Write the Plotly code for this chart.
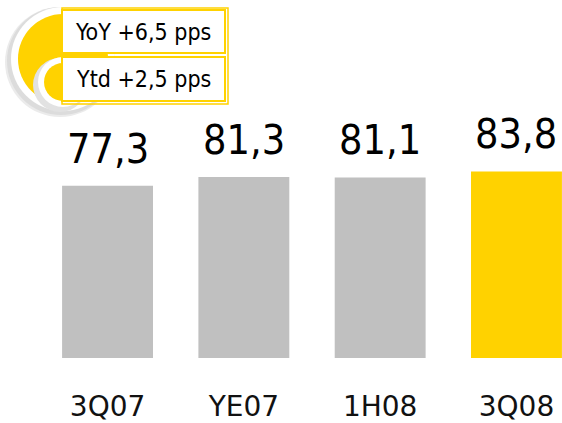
import plotly.graph_objects as go

categories = ["3Q07", "YE07", "1H08", "3Q08"]
values = [77.3, 81.3, 81.1, 83.8]
value_labels = ["77,3", "81,3", "81,1", "83,8"]
bar_colors = ["#C0C0C0", "#C0C0C0", "#C0C0C0", "#FFD200"]
badge_texts = ["YoY +6,5 pps", "Ytd +2,5 pps"]

W, H = 562, 423
ML, MR, MT, MB = 0, 0, 0, 65
PW, PH = W - ML - MR, H - MT - MB
YELLOW = "#FFD200"
FONT_C = "DejaVu Sans Condensed, DejaVu Sans, sans-serif"
FONT_R = "DejaVu Sans, sans-serif"

xs = list(range(len(categories)))

fig = go.Figure(go.Bar(
    x=xs, y=values, marker=dict(color=bar_colors, line=dict(width=0)),
    width=0.667, hoverinfo="skip",
))

for x, v, t in zip(xs, values, value_labels):
    fig.add_annotation(x=x, y=v, text=t, showarrow=False, yanchor="bottom",
                       yshift=11, font=dict(size=41, color="#000", family=FONT_C))

def px(x):
    return (x - ML) / PW

def py(y):
    return (H - MB - y) / PH

shapes = []

def circle(cx, cy, r, color):
    shapes.append(dict(type="circle", xref="paper", yref="paper",
                       x0=px(cx - r), x1=px(cx + r), y0=py(cy + r), y1=py(cy - r),
                       fillcolor=color, line=dict(width=0), layer="above"))

def rect(x0, y0, x1, y1, fill, lc, lw):
    shapes.append(dict(type="rect", xref="paper", yref="paper",
                       x0=px(x0), x1=px(x1), y0=py(y1), y1=py(y0),
                       fillcolor=fill, line=dict(width=lw, color=lc), layer="above"))

# big circle: soft shadow, white ring, yellow
circle(60, 62, 55, "#EBEBEB")
circle(61, 61, 54, "#DCDCDC")
circle(63, 59, 52, "#FFFFFF")
circle(63, 59, 45, YELLOW)
# small circle
circle(60, 85, 27, "#E2E2E2")
circle(63, 82, 25, "#FFFFFF")
circle(63, 82, 19, YELLOW)
# outer frame and boxes
rect(62, 8, 228, 104, "rgba(0,0,0,0)", YELLOW, 1.5)
rect(62, 10, 225, 53, "#FFFFFF", YELLOW, 2)
rect(62, 57, 225, 101, "#FFFFFF", YELLOW, 2)

for txt, cy in zip(badge_texts, [32, 79]):
    fig.add_annotation(xref="paper", yref="paper", x=px(143), y=py(cy),
                       text=txt, showarrow=False, xanchor="center", yanchor="middle",
                       font=dict(size=23, color="#000", family=FONT_C))

fig.update_layout(
    width=W, height=H, margin=dict(l=ML, r=MR, t=MT, b=MB),
    paper_bgcolor="white", plot_bgcolor="white", showlegend=False,
    shapes=shapes,
    xaxis=dict(range=[-0.789, 3.334], tickvals=xs, ticktext=categories,
               showgrid=False, zeroline=False, showline=False, ticks="",
               tickfont=dict(size=28, color="#111", family=FONT_R),
               ticklabelstandoff=29),
    yaxis=dict(range=[0, PH / 2.227], visible=False),
)

fig.write_html("out.html", config={"displayModeBar": False},
               post_script="document.body.style.margin='0';document.body.style.overflow='hidden';")
